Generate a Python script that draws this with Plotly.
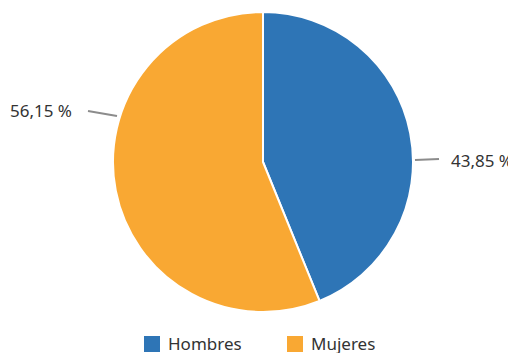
import plotly.graph_objects as go

W, H = 516, 353
OFF = 8  # page body margin of the browser

labels = ["Hombres", "Mujeres"]
values = [43.85, 56.15]
colors = ["#2e75b6", "#f9a833"]

def fmt(v):
    return f"{v:.2f}".replace(".", ",") + "\u00a0%"

def px(x): return (x - OFF) / W
def py(y): return 1 - (y - OFF) / H

fig = go.Figure(go.Pie(
    labels=labels, values=values, sort=False, direction="clockwise", rotation=0,
    marker=dict(colors=colors, line=dict(color="white", width=2)),
    textinfo="none", hoverinfo="label+percent", showlegend=False,
    domain=dict(x=[px(113), px(413)], y=[py(312), py(12)]),
))

FONT = dict(size=17, color="#333333", family="Noto Sans")

# label positions (pixels): (text x, text y, anchor, line from, line to)
label_pos = [
    (515, 160, "right", (415, 160), (439, 159)),
    (74, 111, "right", (117, 116), (88, 111)),
]
shapes = []
annotations = []
for v, (tx, ty, anch, p0, p1) in zip(values, label_pos):
    annotations.append(dict(x=px(tx), y=py(ty), xref="paper", yref="paper", text=fmt(v),
                            showarrow=False, xanchor=anch, yanchor="middle", font=FONT))
    shapes.append(dict(type="line", xref="paper", yref="paper",
                       x0=px(p0[0]), y0=py(p0[1]), x1=px(p1[0]), y1=py(p1[1]),
                       line=dict(color="#8c8c8c", width=2)))

# custom legend (squares + labels)
legend_x = [144, 287]
for lab, col, lx in zip(labels, colors, legend_x):
    shapes.append(dict(type="rect", xref="paper", yref="paper",
                       x0=px(lx), x1=px(lx + 16), y0=py(352), y1=py(336),
                       fillcolor=col, line=dict(width=0)))
    annotations.append(dict(x=px(lx + 23), y=py(343), xref="paper", yref="paper", text=lab,
                            showarrow=False, xanchor="left", yanchor="middle", font=FONT,
                            height=20, borderpad=0))

fig.update_layout(
    width=W, height=H, margin=dict(l=0, r=0, t=0, b=0),
    paper_bgcolor="white", plot_bgcolor="white",
    showlegend=False,
    shapes=shapes, annotations=annotations,
)
fig.write_html("out.html")
